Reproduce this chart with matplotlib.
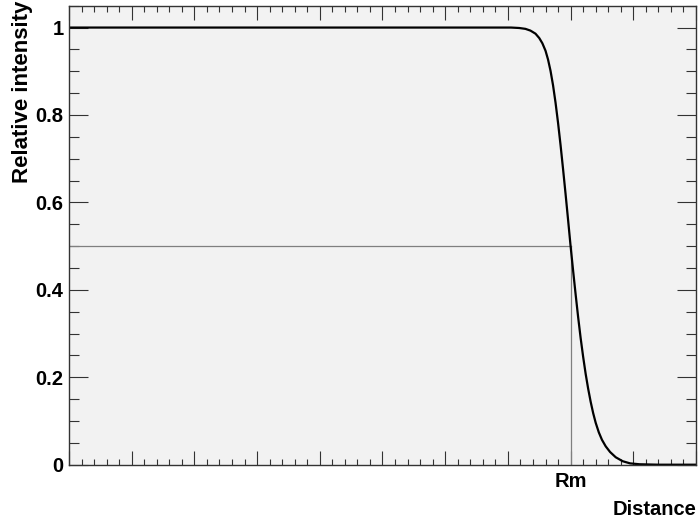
import matplotlib
matplotlib.use('Agg')
import matplotlib.pyplot as plt
from matplotlib.ticker import MultipleLocator, NullFormatter

plt.rcParams['font.family'] = ['Liberation Sans', 'DejaVu Sans']

# curve (distance in axis units, Rm at 8)
distance = [0.0, 6.70, 7.05, 7.18, 7.28, 7.36, 7.44, 7.50, 7.55, 7.60, 7.64,
            7.68, 7.72, 7.76, 7.80, 7.84, 7.88, 7.92, 7.96, 8.00,
            8.04, 8.08, 8.12, 8.16, 8.20, 8.24, 8.28, 8.32, 8.36, 8.40,
            8.45, 8.50, 8.56, 8.63, 8.72, 8.83, 8.95, 9.10, 9.40, 10.0]
intensity = [1.0, 1.0, 1.0, 0.999, 0.997, 0.993, 0.986, 0.976, 0.964, 0.947, 0.927,
             0.901, 0.868, 0.828, 0.782, 0.731, 0.676, 0.619, 0.560, 0.500,
             0.444, 0.390, 0.338, 0.290, 0.247, 0.208, 0.174, 0.144, 0.118, 0.096,
             0.074, 0.057, 0.042, 0.029, 0.017, 0.008, 0.003, 0.001, 0.0, 0.0]
rm_position = 8.0
half_level = 0.5
ytick_values = [0, 0.2, 0.4, 0.6, 0.8, 1]
ytick_labels = ['0', '0.2', '0.4', '0.6', '0.8', '1']

fig = plt.figure(figsize=(6.99, 5.18), dpi=100)
ax = fig.add_axes([0.0987, 0.1029, 0.8970, 0.8861])
ax.set_facecolor('#f2f2f2')

ax.plot([0, rm_position], [half_level, half_level], color='#7f7f7f', lw=0.9)
ax.plot([rm_position, rm_position], [0, half_level], color='#7f7f7f', lw=0.9)
ax.plot(distance, intensity, color='black', lw=1.6, solid_joinstyle='round')

ax.set_xlim(0, 10)
ax.set_ylim(0, 1.05)

ax.xaxis.set_major_locator(MultipleLocator(1))
ax.xaxis.set_minor_locator(MultipleLocator(0.2))
ax.xaxis.set_major_formatter(NullFormatter())
ax.set_yticks(ytick_values)
ax.set_yticklabels(ytick_labels, fontweight='bold', fontsize=14.5)
ax.yaxis.set_minor_locator(MultipleLocator(0.05))

ax.tick_params(axis='both', which='both', direction='in', top=True, right=True,
               color='#333333', width=0.8)
ax.tick_params(axis='x', which='major', length=9.9)
ax.tick_params(axis='x', which='minor', length=4.6)
ax.tick_params(axis='y', which='major', length=13.7, pad=4.0)
ax.tick_params(axis='y', which='minor', length=7.2)

for side in ax.spines.values():
    side.set_color('#333333')
    side.set_linewidth(1.0)

ax.text(rm_position, -0.048, 'Rm', transform=ax.get_xaxis_transform(),
        ha='center', va='baseline', fontweight='bold', fontsize=14.5)
fig.text(0.997, 0.006, 'Distance', ha='right', va='baseline',
         fontweight='bold', fontsize=14.5)
fig.text(0.0315, 0.998, 'Relative intensity', rotation=90, ha='center', va='top',
         fontweight='bold', fontsize=16)

fig.savefig('out.png', dpi=100)
